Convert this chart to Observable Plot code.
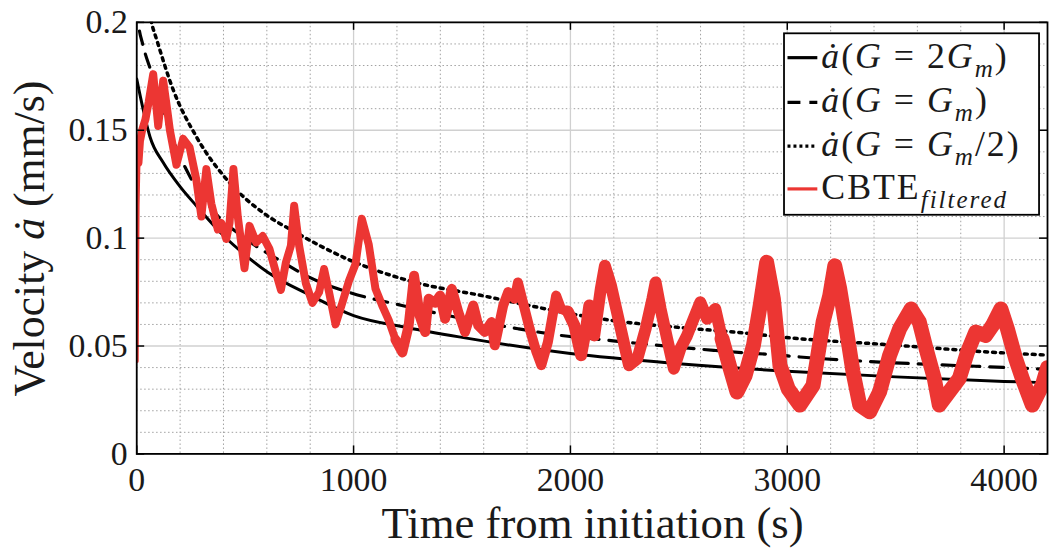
<!DOCTYPE html>
<html><head><meta charset="utf-8">
<script src="https://cdn.jsdelivr.net/npm/d3@7"></script>
<script src="https://cdn.jsdelivr.net/npm/@observablehq/plot@0.6"></script>
<style>
html,body{margin:0;padding:0;background:#fff;overflow:hidden;}
#chart{width:1050px;height:553px;overflow:hidden;position:relative;}
svg{display:block;}
</style></head><body><div id="chart"></div>
<script>
// ---- axis ticks ----
const xMajor = [0, 1000, 2000, 3000, 4000];
const xMinor = [200, 400, 600, 800, 1200, 1400, 1600, 1800, 2200, 2400, 2600, 2800, 3200, 3400, 3600, 3800, 4200];
const yMajor = [0, 0.05, 0.1, 0.15, 0.2];
const yMinor = [0.01, 0.02, 0.03, 0.04, 0.06, 0.07, 0.08, 0.09, 0.11, 0.12, 0.13, 0.14, 0.16, 0.17, 0.18, 0.19];

// ---- model curves ----
const solidT = [0, 30, 61, 122, 199, 275, 402, 505, 604, 803, 1000, 1250, 1500, 2000, 2500, 3000, 3500, 4000, 4200];
const solidV = [0.1737, 0.1595, 0.147, 0.135, 0.124, 0.115, 0.101, 0.0918, 0.0842, 0.0734, 0.0641, 0.0585, 0.0540, 0.0465, 0.0418, 0.0383, 0.0357, 0.0336, 0.0330];

const dashT = [0, 7, 30, 69, 150, 244, 350, 505, 688, 795, 978, 1223, 1500, 1758, 1957, 2140, 2294, 2661, 2798, 2936, 3058, 3364, 3700, 4020, 4200];
const dashV = [0.207, 0.200, 0.189, 0.1765, 0.150, 0.1288, 0.113, 0.0995, 0.088, 0.0819, 0.0749, 0.0688, 0.0628, 0.058, 0.0549, 0.053, 0.0514, 0.048, 0.0469, 0.046, 0.0449, 0.0429, 0.0413, 0.040, 0.0392];

const dotT = [0, 40, 69, 92, 168, 275, 428, 581, 734, 990, 1284, 1590, 2000, 2140, 2523, 2752, 3020, 3455, 4000, 4200];
const dotV = [0.245, 0.215, 0.1996, 0.192, 0.1688, 0.147, 0.1257, 0.1119, 0.1026, 0.0895, 0.0795, 0.0734, 0.065, 0.0626, 0.0584, 0.0565, 0.0537, 0.0507, 0.0468, 0.0458];

const redT = [0, 2, 4, 8, 15, 25, 40, 55, 76, 99, 122, 140, 153, 183, 214, 244, 275, 298, 321, 344, 374, 390, 413, 428, 446, 466, 497, 520, 551, 581, 612, 642, 665, 688, 711, 726, 749, 780, 810, 841, 864, 887, 917, 948, 978, 1009, 1038, 1070, 1101, 1131, 1162, 1193, 1225, 1254, 1279, 1305, 1330, 1346, 1376, 1399, 1422, 1453, 1483, 1514, 1552, 1575, 1605, 1636, 1651, 1690, 1713, 1743, 1758, 1781, 1812, 1843, 1866, 1896, 1934, 1957, 1988, 2018, 2049, 2072, 2087, 2110, 2140, 2159, 2187, 2232, 2270, 2309, 2347, 2378, 2393, 2416, 2446, 2477, 2507, 2538, 2568, 2599, 2630, 2668, 2699, 2737, 2768, 2806, 2844, 2875, 2905, 2936, 2966, 3005, 3058, 3119, 3165, 3196, 3219, 3242, 3272, 3303, 3334, 3380, 3426, 3472, 3518, 3571, 3609, 3640, 3678, 3701, 3747, 3793, 3831, 3869, 3915, 3946, 3985, 4015, 4053, 4084, 4130, 4176, 4200];
const redV = [0.043, 0.085, 0.115, 0.135, 0.145, 0.150, 0.155, 0.163, 0.176, 0.152, 0.173, 0.160, 0.150, 0.134, 0.146, 0.142, 0.127, 0.110, 0.132, 0.116, 0.104, 0.107, 0.0996, 0.107, 0.132, 0.110, 0.086, 0.1057, 0.098, 0.101, 0.095, 0.084, 0.076, 0.0888, 0.0965, 0.115, 0.0965, 0.079, 0.070, 0.075, 0.0857, 0.0749, 0.060, 0.070, 0.080, 0.088, 0.109, 0.097, 0.0765, 0.069, 0.062, 0.053, 0.047, 0.0595, 0.0826, 0.064, 0.0565, 0.0719, 0.070, 0.0734, 0.0626, 0.0765, 0.0657, 0.0565, 0.0688, 0.0595, 0.0565, 0.0611, 0.0503, 0.0688, 0.075, 0.0719, 0.0795, 0.0703, 0.058, 0.0473, 0.0411, 0.0518, 0.0734, 0.0672, 0.066, 0.0596, 0.0457, 0.058, 0.0688, 0.0549, 0.0765, 0.0872, 0.078, 0.058, 0.0411, 0.0442, 0.058, 0.0719, 0.0795, 0.0672, 0.0534, 0.0395, 0.0488, 0.0549, 0.0626, 0.0703, 0.0626, 0.0672, 0.0534, 0.0395, 0.0287, 0.0364, 0.0503, 0.0688, 0.0888, 0.0719, 0.0411, 0.030, 0.0226, 0.0318, 0.0611, 0.0734, 0.0872, 0.0765, 0.058, 0.038, 0.0226, 0.0195, 0.0288, 0.0457, 0.058, 0.0672, 0.0611, 0.0488, 0.0349, 0.0226, 0.0288, 0.0349, 0.0472, 0.0565, 0.0549, 0.0595, 0.0672, 0.058, 0.0442, 0.0349, 0.0226, 0.0318, 0.040];
// noise band (half-width, mm/s) read per time span
const noiseFrom = [0, 6, 300, 1500, 2700];
const noiseHalf = [0.001, 0.002, 0.001, 0.0018, 0.003];

const RED = "#ec3633";
const FONT = "'Liberation Serif', 'Times New Roman', serif";

const mk = (T, V) => T.map((t, i) => ({t, v: V[i]}));
const solid = mk(solidT, solidV);
const dashed = mk(dashT, dashV);
const dotted = mk(dotT, dotV);
const noiseAt = t => noiseHalf[d3.bisectRight(noiseFrom, t) - 1];
const red = redT.map((t, i) => ({t, v: redV[i], n: noiseAt(t)}));

// the trace gets visibly thicker (noisier) with time: stacked strokes from a start time to the end
const layers = [[0, 4], [8, 8], [1193, 10], [1988, 12], [2699, 15]];
const redLines = layers.map(([a, w]) =>
  Plot.line(red.filter(d => d.t >= a),
    {x: "t", y: "v", stroke: RED, strokeWidth: w, strokeLinejoin: "round", strokeLinecap: "round", clip: true}));

const W = 1056, H = 553, ML = 137, MR = 3, MT = 22, MB = 97;
const innerW = W - ML - MR, innerH = H - MT - MB;

const plot = Plot.plot({
  width: W, height: H,
  marginLeft: ML, marginRight: MR, marginTop: MT, marginBottom: MB,
  style: {fontFamily: FONT, fontSize: "34px", color: "#1a1a1a", background: "#fff", overflow: "visible"},
  x: {domain: [0, 4200], ticks: xMajor, tickSize: 0, tickPadding: 13, tickFormat: d => String(d), label: null},
  y: {domain: [0, 0.2], ticks: yMajor, tickSize: 0, tickPadding: 9, tickFormat: d => String(d), label: null},
  marks: [
    // grid
    Plot.ruleX(xMinor, {stroke: "#a0a0a0", strokeWidth: 1, strokeDasharray: "1.5,2.5"}),
    Plot.ruleY(yMinor, {stroke: "#a0a0a0", strokeWidth: 1, strokeDasharray: "1.5,2.5"}),
    Plot.ruleX(xMajor, {stroke: "#d0d0d0", strokeWidth: 1.3}),
    Plot.ruleY(yMajor, {stroke: "#d0d0d0", strokeWidth: 1.3}),
    // model curves
    Plot.line(solid, {x: "t", y: "v", stroke: "#000", strokeWidth: 3, curve: "monotone-x", clip: true}),
    Plot.line(dashed, {x: "t", y: "v", stroke: "#000", strokeWidth: 3.2, strokeDasharray: "14,10", curve: "monotone-x", clip: true}),
    Plot.line(dotted, {x: "t", y: "v", stroke: "#000", strokeWidth: 3.5, strokeDasharray: "3,5", curve: "monotone-x", clip: true}),
    // measured
    Plot.areaY(red, {x: "t", y1: d => d.v - d.n, y2: d => d.v + d.n, fill: RED, clip: true}),
    ...redLines,
    // inner ticks
    Plot.ruleX(xMajor, {stroke: "#000", strokeWidth: 1.5, insetTop: innerH - 8}),
    Plot.ruleX(xMajor, {stroke: "#000", strokeWidth: 1.5, insetBottom: innerH - 8}),
    Plot.ruleY(yMajor, {stroke: "#000", strokeWidth: 1.5, insetRight: innerW - 8}),
    Plot.ruleY(yMajor, {stroke: "#000", strokeWidth: 1.5, insetLeft: innerW - 8}),
    Plot.frame({stroke: "#000", strokeWidth: 1.8})
  ]
});

document.getElementById("chart").appendChild(plot);
const svg = d3.select(plot);

// rich text helper
function richText(g, x, y, parts, size, anchor = "start", spacing = 0) {
  const t = g.append("text").attr("x", x).attr("y", y)
    .attr("font-family", FONT).attr("font-size", size).attr("fill", "#1a1a1a")
    .attr("text-anchor", anchor).attr("letter-spacing", spacing);
  let shift = 0;
  for (const p of parts) {
    const s = t.append("tspan").text(p.t);
    if (p.i) s.attr("font-style", "italic");
    const want = p.sub ? size * 0.25 : 0;
    if (want !== shift) { s.attr("dy", want - shift); shift = want; }
    if (p.sub) s.attr("font-size", size * 0.7);
  }
  return t;
}

// axis titles
richText(svg, 596, 541, [{t: "Time from initiation (s)"}], 45, "middle");
const yl = svg.append("g").attr("transform", "translate(44,240) rotate(-90)");
richText(yl, 0, 0, [{t: "Velocity "}, {t: "ȧ", i: true}, {t: " (mm/s)"}], 44, "middle");

// legend
const lg = svg.append("g");
lg.append("rect").attr("x", 788.5).attr("y", 33.5).attr("width", 256.5).attr("height", 182.5)
  .attr("fill", "#fff").attr("stroke", "#000").attr("stroke-width", 1.8);
const rows = [
  {y: 68, dash: null, color: "#000", parts: [{t: "ȧ", i: true}, {t: "("}, {t: "G", i: true}, {t: " = 2"}, {t: "G", i: true}, {t: "m", i: true, sub: true}, {t: ")"}]},
  {y: 113, dash: "13,9", color: "#000", parts: [{t: "ȧ", i: true}, {t: "("}, {t: "G", i: true}, {t: " = "}, {t: "G", i: true}, {t: "m", i: true, sub: true}, {t: ")"}]},
  {y: 157, dash: "3,3", color: "#000", parts: [{t: "ȧ", i: true}, {t: "("}, {t: "G", i: true}, {t: " = "}, {t: "G", i: true}, {t: "m", i: true, sub: true}, {t: "/2)"}]},
  {y: 200, dash: null, color: RED, parts: [{t: "CBTE"}, {t: "filtered", i: true, sub: true}]}
];
for (const r of rows) {
  const ln = lg.append("line").attr("x1", 792).attr("x2", 822).attr("y1", r.y - 10).attr("y2", r.y - 10)
    .attr("stroke", r.color).attr("stroke-width", 3.2);
  if (r.dash) ln.attr("stroke-dasharray", r.dash);
  richText(lg, 826, r.y, r.parts, 36, "start", 2);
}
</script></body></html>
